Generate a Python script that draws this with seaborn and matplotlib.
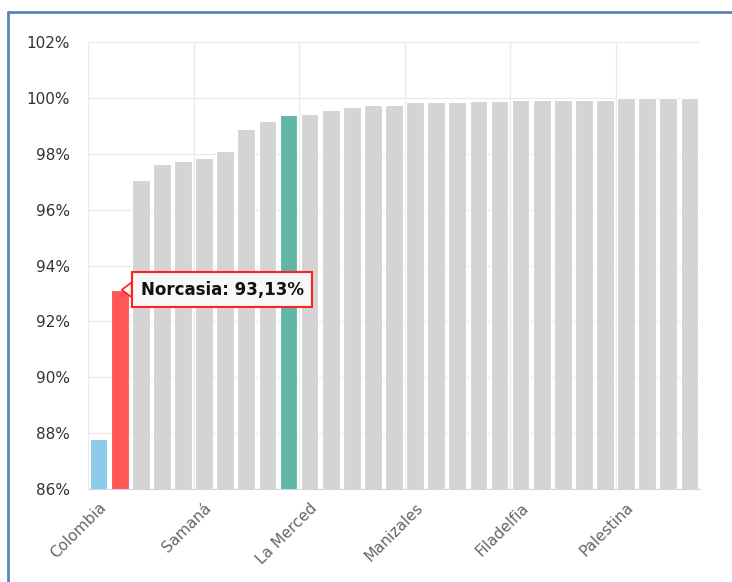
import numpy as np
import pandas as pd
import matplotlib.pyplot as plt
import seaborn as sns
from matplotlib.lines import Line2D

### Data ###

# coverage (%) per municipality, sorted; only every 5th name is shown on the axis
values = [87.78, 93.13, 97.07, 97.64, 97.74, 97.84, 98.09, 98.88, 99.18, 99.38,
          99.44, 99.58, 99.69, 99.74, 99.75, 99.84, 99.84, 99.84, 99.89, 99.89,
          99.94, 99.94, 99.94, 99.94, 99.94, 100.0, 100.0, 100.0, 100.0]
tick_pos = [0, 5, 10, 15, 20, 25]
tick_labels = ['Colombia', 'Samaná', 'La Merced', 'Manizales', 'Filadelfia', 'Palestina']
kind = ['pais', 'sel'] + ['otro'] * 7 + ['capital'] + ['otro'] * 19
tooltip_name = 'Norcasia'
tooltip_idx = 1

colors = {'pais': '#8ecae9', 'sel': '#ff5757', 'capital': '#61b6a5', 'otro': '#d4d4d4'}

df = pd.DataFrame({'pos': np.arange(len(values)), 'valor': values, 'tipo': kind})

### Plot ###

sns.set_style('white')
fig = plt.figure(figsize=(7.32, 5.82), dpi=100)
ax = fig.add_axes([88/732, 1 - 489/582, 612/732, 447/582])

sns.barplot(data=df, x='pos', y='valor', hue='tipo', palette=colors, dodge=False,
            saturation=1, width=0.84, edgecolor='white', linewidth=0.8,
            legend=False, ax=ax)

ax.set_ylim(86, 102)
ax.set_xlim(-0.5, len(values) - 0.5)
ax.set_yticks(np.arange(86, 103, 2))
ax.set_yticklabels([f'{v}%' for v in range(86, 103, 2)], fontsize=11, color='#333333')
ax.set_xticks(tick_pos)
ax.set_xticklabels(tick_labels, rotation=45, ha='right', rotation_mode='anchor',
                   fontsize=11, color='#666666')
ax.set_xticks(np.arange(-0.5, len(values), 5), minor=True)
ax.tick_params(axis='x', which='major', length=5, color='#ccd6eb', pad=3)
ax.tick_params(axis='x', which='minor', length=0)
ax.tick_params(axis='y', length=0, pad=13)
ax.set_xlabel('')
ax.set_ylabel('')

ax.set_axisbelow(True)
ax.grid(axis='y', color='#ebebeb', lw=1)
ax.grid(axis='x', which='minor', color='#ebebeb', lw=1)
ax.grid(axis='x', which='major', visible=False)
for s in ['top', 'right', 'left']:
    ax.spines[s].set_visible(False)
ax.spines['bottom'].set_color('#ccd6eb')

# tooltip
txt = f"{tooltip_name}: {values[tooltip_idx]:.2f}%".replace('.', ',')
ax.annotate(txt, xy=(tooltip_idx + 0.1, values[tooltip_idx]), xytext=(19, 0),
            textcoords='offset pixels', ha='left', va='center',
            fontsize=12, fontweight='bold', color='#111111',
            bbox=dict(boxstyle='square,pad=0.5', fc='#f8f8f8', ec='#ff2020', lw=1.5),
            arrowprops=dict(arrowstyle='wedge,tail_width=0.9', fc='#f8f8f8', ec='#ff2020',
                            lw=1.2, shrinkA=0, shrinkB=0))

# frame lines of the original screenshot
fig.add_artist(Line2D([8/732, 1], [1 - 11.5/582] * 2, color='#5a85b8', lw=2,
                      transform=fig.transFigure))
fig.add_artist(Line2D([8/732] * 2, [0, 1 - 11.5/582], color='#5a85b8', lw=2,
                      transform=fig.transFigure))

fig.savefig('out.png', dpi=100)
